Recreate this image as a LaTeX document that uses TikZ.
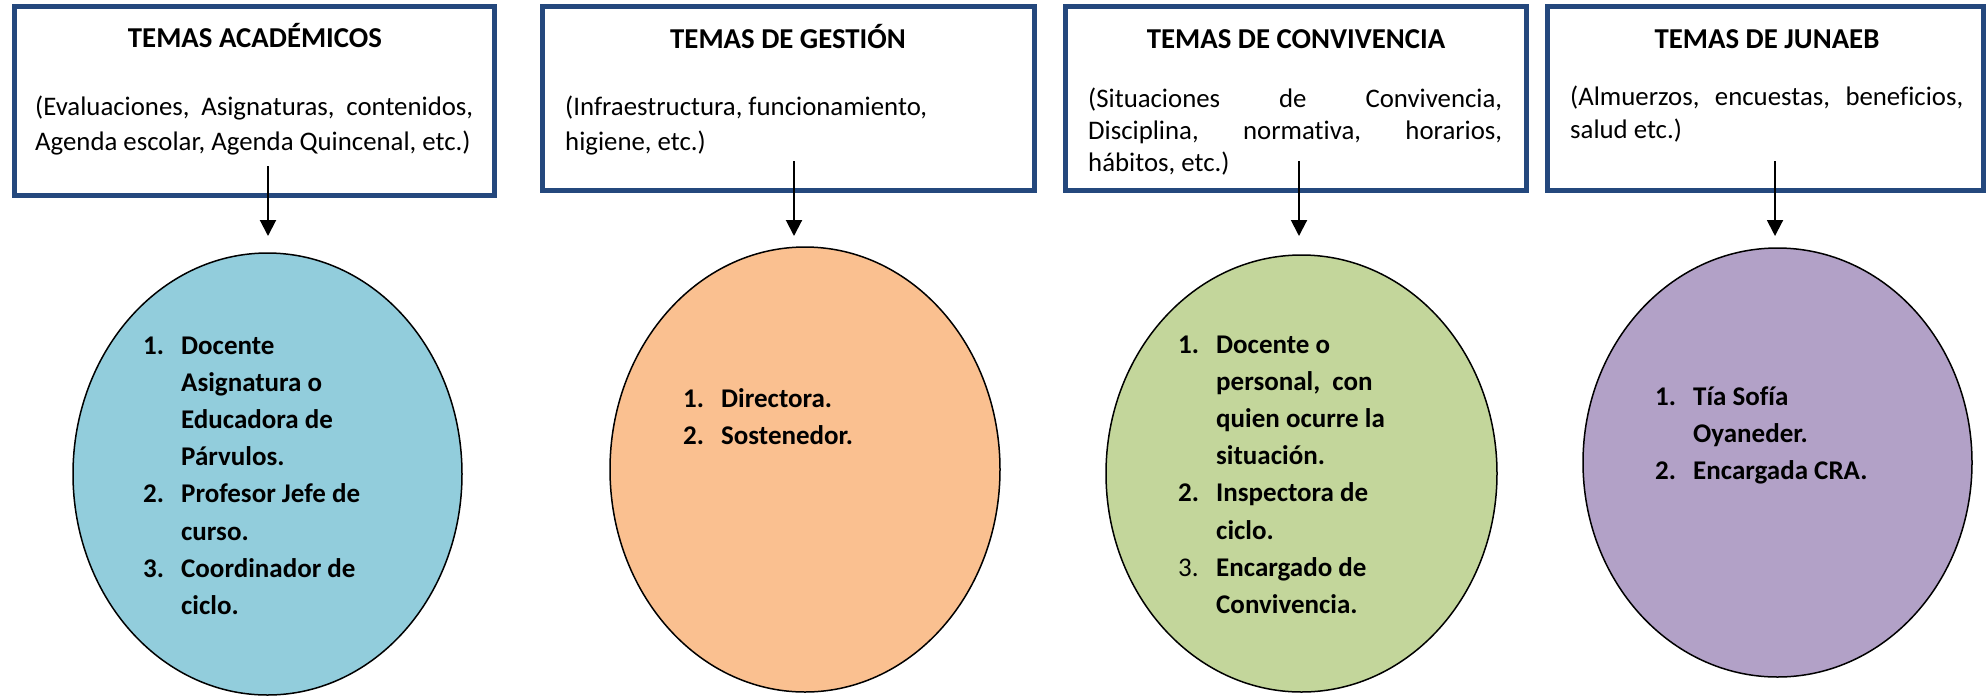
\documentclass[tikz,border=0pt]{standalone}
\usepackage{fontspec}
\setmainfont{Carlito}[Ligatures=NoCommon]
\usetikzlibrary{shapes.geometric,arrows.meta}
\definecolor{boxblue}{HTML}{24487D}
\definecolor{eblue}{HTML}{92CDDC}
\definecolor{eorange}{HTML}{FAC090}
\definecolor{egreen}{HTML}{C3D69B}
\definecolor{epurple}{HTML}{B2A1C7}
\newcommand{\jl}[2]{\hbox to #1{#2}}
\newcommand{\li}[2]{\hbox{\makebox[38pt][l]{#1}#2}}
\newcommand{\lc}[1]{\hbox{\hspace{38pt}#1}}
\begin{document}
\begin{tikzpicture}[x=1pt,y=-1pt,
  topicbox/.style={draw=boxblue, line width=5pt, rectangle, inner sep=0pt, fill=white},
  ellip/.style={ellipse, draw=black, line width=1.5pt, inner sep=0pt},
  boxtitle/.style={font=\fontsize{28.8}{34}\selectfont\bfseries, anchor=base, inner sep=0pt},
  boxbody/.style={font=\fontsize{26.8}{35}\selectfont, anchor=base west, inner sep=0pt},
  listtext/.style={font=\fontsize{27}{37}\selectfont\bfseries, anchor=base west, inner sep=0pt},
  arrowline/.style={-{Triangle[width=16pt,length=16pt]}, line width=2pt}]
\useasboundingbox (0,0) rectangle (1986,697);

% boxes
\node[topicbox, minimum width=480pt, minimum height=189pt] (b1) at (254.5,101) {};
\node[topicbox, minimum width=492pt, minimum height=184pt] (b2) at (788.5,98.5) {};
\node[topicbox, minimum width=461pt, minimum height=184pt] (b3) at (1296,98.5) {};
\node[topicbox, minimum width=435.5pt, minimum height=184pt] (b4) at (1765.25,98.5) {};

% titles
\node[boxtitle] (t1) at (255,47) {TEMAS ACADÉMICOS};
\node[boxtitle] (t2) at (788,48) {TEMAS DE GESTIÓN};
\node[boxtitle] (t3) at (1296,48) {TEMAS DE CONVIVENCIA};
\node[boxtitle] (t4) at (1767,48) {TEMAS DE JUNAEB};

% bodies
\node[boxbody] (d1) at (35,115) {\vtop{\baselineskip=35pt
  \jl{438pt}{(Evaluaciones,\hfill Asignaturas,\hfill contenidos,}
  \jl{438pt}{Agenda escolar, Agenda Quincenal, etc.)\hfill}}};
\node[boxbody] (d2) at (565,115) {\vtop{\baselineskip=35pt
  \hbox{(Infraestructura, funcionamiento,}
  \hbox{higiene, etc.)}}};
\node[boxbody] (d3) at (1088,107) {\vtop{\baselineskip=32pt
  \jl{414pt}{(Situaciones\hfill de\hfill Convivencia,}
  \jl{414pt}{Disciplina,\hfill normativa,\hfill horarios,}
  \hbox{hábitos, etc.)}}};
\node[boxbody] (d4) at (1570,105) {\vtop{\baselineskip=33pt
  \jl{393pt}{(Almuerzos,\hfill encuestas,\hfill beneficios,}
  \hbox{salud etc.)}}};

% ellipses
\node[ellip, fill=eblue, minimum width=389pt, minimum height=442pt] (e1) at (267.5,474) {};
\node[ellip, fill=eorange, minimum width=390pt, minimum height=445pt] (e2) at (805,469.5) {};
\node[ellip, fill=egreen, minimum width=391pt, minimum height=437pt] (e3) at (1301.5,473.5) {};
\node[ellip, fill=epurple, minimum width=389pt, minimum height=429pt] (e4) at (1777.5,462.5) {};

% list texts
\node[listtext] (l1) at (143,354) {\vtop{\baselineskip=37.2pt
  \li{1.}{Docente}
  \lc{Asignatura o}
  \lc{Educadora de}
  \lc{Párvulos.}
  \li{2.}{Profesor Jefe de}
  \lc{curso.}
  \li{3.}{Coordinador de}
  \lc{ciclo.}}};
\node[listtext] (l2) at (683,407) {\vtop{\baselineskip=37pt
  \li{1.}{Directora.}
  \li{2.}{Sostenedor.}}};
\node[listtext] (l3) at (1178,353) {\vtop{\baselineskip=37.2pt
  \li{1.}{Docente o}
  \lc{personal,\ \ con}
  \lc{quien ocurre la}
  \lc{situación.}
  \li{2.}{Inspectora de}
  \lc{ciclo.}
  \li{\mdseries 3.}{Encargado de}
  \lc{Convivencia.}}};
\node[listtext] (l4) at (1655,405) {\vtop{\baselineskip=37pt
  \li{1.}{Tía Sofía}
  \lc{Oyaneder.}
  \li{2.}{Encargada CRA.}}};

% arrows
\coordinate (a1s) at (268,166);
\coordinate (a1e) at (268,236);
\coordinate (a2s) at (794,161);
\coordinate (a2e) at (794,236);
\coordinate (a3s) at (1299,161);
\coordinate (a3e) at (1299,236);
\coordinate (a4s) at (1775,161);
\coordinate (a4e) at (1775,236);
\draw[arrowline] (a1s) -- (a1e);
\draw[arrowline] (a2s) -- (a2e);
\draw[arrowline] (a3s) -- (a3e);
\draw[arrowline] (a4s) -- (a4e);
\end{tikzpicture}
\end{document}
